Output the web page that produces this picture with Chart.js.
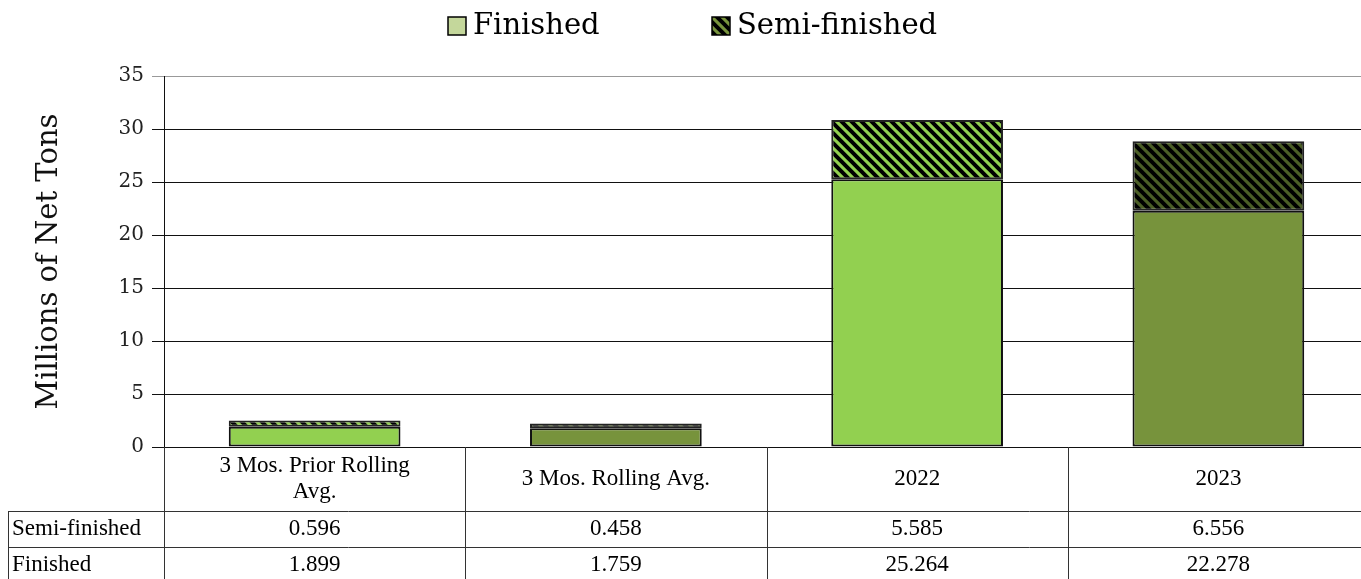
<!DOCTYPE html>
<html>
<head>
<meta charset="utf-8">
<script src="https://cdn.jsdelivr.net/npm/chart.js@4"></script>
<style>
  html, body { margin: 0; padding: 0; background: #fff; overflow: hidden; }
  #wrap { width: 1370px; height: 579px; position: relative; }
</style>
</head>
<body>
<div id="wrap"><canvas id="miGrafico"></canvas></div>
<script>
const categories = [['3 Mos. Prior Rolling', 'Avg.'], '3 Mos. Rolling Avg.', '2022', '2023']
const finished = [1.899, 1.759, 25.264, 22.278]
const semiFinished = [0.596, 0.458, 5.585, 6.556]
const seriesNames = ['Finished', 'Semi-finished']
const yMin = 0
const yMax = 35
const yStep = 5

const serif = "'DejaVu Serif', serif"
const tableFont = "'Liberation Serif', serif"

// rayado negro en diagonal sobre un color de fondo
const stripes = (bg) => {
  const c = document.createElement('canvas')
  c.width = 10
  c.height = 10
  const g = c.getContext('2d')
  g.fillStyle = bg
  g.fillRect(0, 0, 10, 10)
  g.strokeStyle = '#000'
  g.lineWidth = 4
  g.beginPath()
  g.moveTo(-5, -5); g.lineTo(15, 15)
  g.moveTo(-5, 5); g.lineTo(5, 15)
  g.moveTo(5, -5); g.lineTo(15, 5)
  g.stroke()
  return g.createPattern(c, 'repeat')
}

const light = '#92D050'
const olive = '#77933C'
const darkOlive = '#4B5E26'

const finishedColors = [light, olive, light, olive]
const semiColors = [stripes(light), stripes(darkOlive), stripes(light), stripes(darkOlive)]

const legendAndTable = {
  id: 'legendAndTable',
  afterDraw: (chart) => {
    const ctx = chart.ctx
    const xs = chart.scales.x
    const area = chart.chartArea
    ctx.save()

    // leyenda
    const items = [
      { text: seriesNames[0], fill: '#C4D79B', x: 448 },
      { text: seriesNames[1], fill: stripes(olive), x: 712 },
    ]
    items.forEach((it) => {
      ctx.fillStyle = it.fill
      ctx.fillRect(it.x, 17, 18, 18)
      ctx.strokeStyle = '#000'
      ctx.lineWidth = 1.5
      ctx.strokeRect(it.x, 17, 18, 18)
      ctx.fillStyle = '#000'
      ctx.font = '29px ' + serif
      ctx.textAlign = 'left'
      ctx.textBaseline = 'middle'
      ctx.fillText(it.text, it.x + 25, 26)
    })

    // tabla de datos
    const colW = xs.width / categories.length
    const headTop = area.bottom
    const row1 = 511
    const row2 = 547
    const bottom = chart.height
    ctx.strokeStyle = '#333'
    ctx.lineWidth = 1
    ctx.beginPath()
    ctx.moveTo(area.left + 0.5, headTop); ctx.lineTo(area.left + 0.5, bottom)
    for (let i = 1; i <= categories.length; i++) {
      const x = Math.round(xs.getPixelForValue(i - 1) + colW / 2) + 0.5
      ctx.moveTo(x, headTop); ctx.lineTo(x, bottom)
    }
    ctx.moveTo(8.5, row1); ctx.lineTo(8.5, bottom)
    ctx.moveTo(8, row1 + 0.5); ctx.lineTo(chart.width, row1 + 0.5)
    ctx.moveTo(8, row2 + 0.5); ctx.lineTo(chart.width, row2 + 0.5)
    ctx.stroke()

    ctx.fillStyle = '#000'
    ctx.font = '23px ' + tableFont
    ctx.textBaseline = 'middle'
    ctx.textAlign = 'left'
    ctx.fillText(seriesNames[1], 12, (row1 + row2) / 2)
    ctx.fillText(seriesNames[0], 12, (row2 + bottom) / 2 + 2)

    ctx.textAlign = 'center'
    categories.forEach((cat, i) => {
      const cx = xs.getPixelForValue(i)
      const lines = Array.isArray(cat) ? cat : [cat]
      const mid = (headTop + row1) / 2
      lines.forEach((ln, j) => {
        ctx.fillText(ln, cx, mid + (j - (lines.length - 1) / 2) * 26)
      })
      ctx.fillText(semiFinished[i].toFixed(3), cx, (row1 + row2) / 2)
      ctx.fillText(finished[i].toFixed(3), cx, (row2 + bottom) / 2 + 2)
    })
    ctx.restore()
  },
}

const ctx = document.getElementById('miGrafico').getContext('2d')
const myChart = new Chart(ctx, {
  type: 'bar',
  data: {
    labels: categories.map((c) => (Array.isArray(c) ? c.join(' ') : c)),
    datasets: [
      {
        label: seriesNames[0],
        data: finished,
        backgroundColor: finishedColors,
        borderColor: '#111',
        borderWidth: 2,
        borderSkipped: false,
        barPercentage: 0.57,
        categoryPercentage: 1,
      },
      {
        label: seriesNames[1],
        data: semiFinished,
        backgroundColor: semiColors,
        borderColor: '#222',
        borderWidth: 2,
        borderSkipped: false,
        barPercentage: 0.57,
        categoryPercentage: 1,
      },
    ],
  },
  options: {
    responsive: true,
    maintainAspectRatio: false,
    animation: false,
    layout: { padding: { top: 76, bottom: 132, left: 0, right: 1 } },
    plugins: {
      legend: { display: false },
      tooltip: { enabled: false },
    },
    scales: {
      x: {
        stacked: true,
        display: false,
      },
      y: {
        stacked: true,
        min: yMin,
        max: yMax,
        afterFit: (scale) => {
          scale.width = 164
        },
        ticks: {
          stepSize: yStep,
          padding: 8,
          color: '#222',
          font: { family: serif, size: 20 },
        },
        grid: {
          color: (c) => (c.tick && c.tick.value === yMax ? '#999' : '#111'),
          lineWidth: 1,
          tickLength: 12,
        },
        border: { display: true, color: '#111', width: 1 },
        title: {
          display: true,
          text: 'Millions of Net Tons',
          color: '#111',
          font: { family: serif, size: 29 },
          padding: { top: 32, bottom: 0 },
        },
      },
    },
  },
  plugins: [legendAndTable],
})
</script>
</body>
</html>
